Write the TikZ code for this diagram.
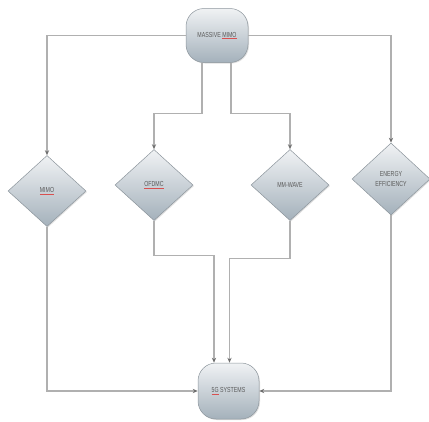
\documentclass[tikz,border=0pt]{standalone}
\usepackage{fontspec}
\setmainfont{Liberation Sans}[FakeStretch=0.72]
\usetikzlibrary{shapes.geometric,arrows.meta,shadows}
\definecolor{boxtop}{HTML}{F0F2F4}
\definecolor{boxbot}{HTML}{A4B1BB}
\definecolor{boxedge}{HTML}{8C959C}
\definecolor{wire}{HTML}{B0B0B0}
\definecolor{tipcol}{HTML}{6E6E6E}
\definecolor{labelcol}{HTML}{5A5A5A}
\definecolor{spellred}{HTML}{D85050}
% red spell-check underline under a word
\newcommand{\spellmark}[1]{\begingroup\setbox0\hbox{#1}\rlap{\color{spellred}\rule[-1.2pt]{\wd0}{0.35pt}}\box0\endgroup}
\tikzset{
  base/.style={top color=boxtop, bottom color=boxbot, draw=boxedge, line width=0.5pt,
    text=labelcol, font=\fontsize{7.3}{10}\selectfont, align=center, inner sep=0pt,
    drop shadow={opacity=0.25, shadow xshift=1pt, shadow yshift=-1pt}},
  term/.style={base, rectangle, rounded corners=18pt, minimum width=62pt, minimum height=54pt},
  choice/.style={base, diamond, minimum width=78pt, minimum height=71pt},
  wireline/.style={draw=wire, line width=1.1pt},
  flow/.style={wireline, -{Stealth[length=5pt,width=4.2pt,color=tipcol]}}
}
\begin{document}
\begin{tikzpicture}[x=1pt,y=-1pt]
\useasboundingbox (0,0) rectangle (429,421);
% nodes
\node[term] (mm) at (217,35.5) {MASSIVE \spellmark{MIMO}};
\node[choice] (mimo) at (47,191) {\spellmark{MIMO}};
\node[choice] (ofdmc) at (154,185) {\spellmark{OFDMC}};
\node[choice] (mmw) at (290,185) {MM-WAVE};
\node[choice, minimum height=72pt] (ee) at (391,179) {ENERGY\\EFFICIENCY};
\node[term, minimum width=61pt, minimum height=56pt] (g5) at (228.5,391) {\spellmark{5G} SYSTEMS};
% fan-out from the top node
\draw[flow] (mm.west) -| (mimo.north);
\draw[flow] (mm.east) -| (ee.north);
\draw[flow] ([xshift=-15pt]mm.south) -- ++(0,51) -| (ofdmc.north);
\draw[flow] ([xshift=14pt]mm.south) -- ++(0,51) -| (mmw.north);
% fan-in to the bottom node
\draw[flow] (mimo.south) |- (g5.west);
\draw[flow] (ee.south) |- (g5.east);
\draw[flow] (ofdmc.south) -- ++(0,35) -| ([xshift=-14.5pt]g5.north);
\draw[flow] (mmw.south) -- ++(0,38) -| ([xshift=1pt]g5.north);
\end{tikzpicture}
\end{document}
